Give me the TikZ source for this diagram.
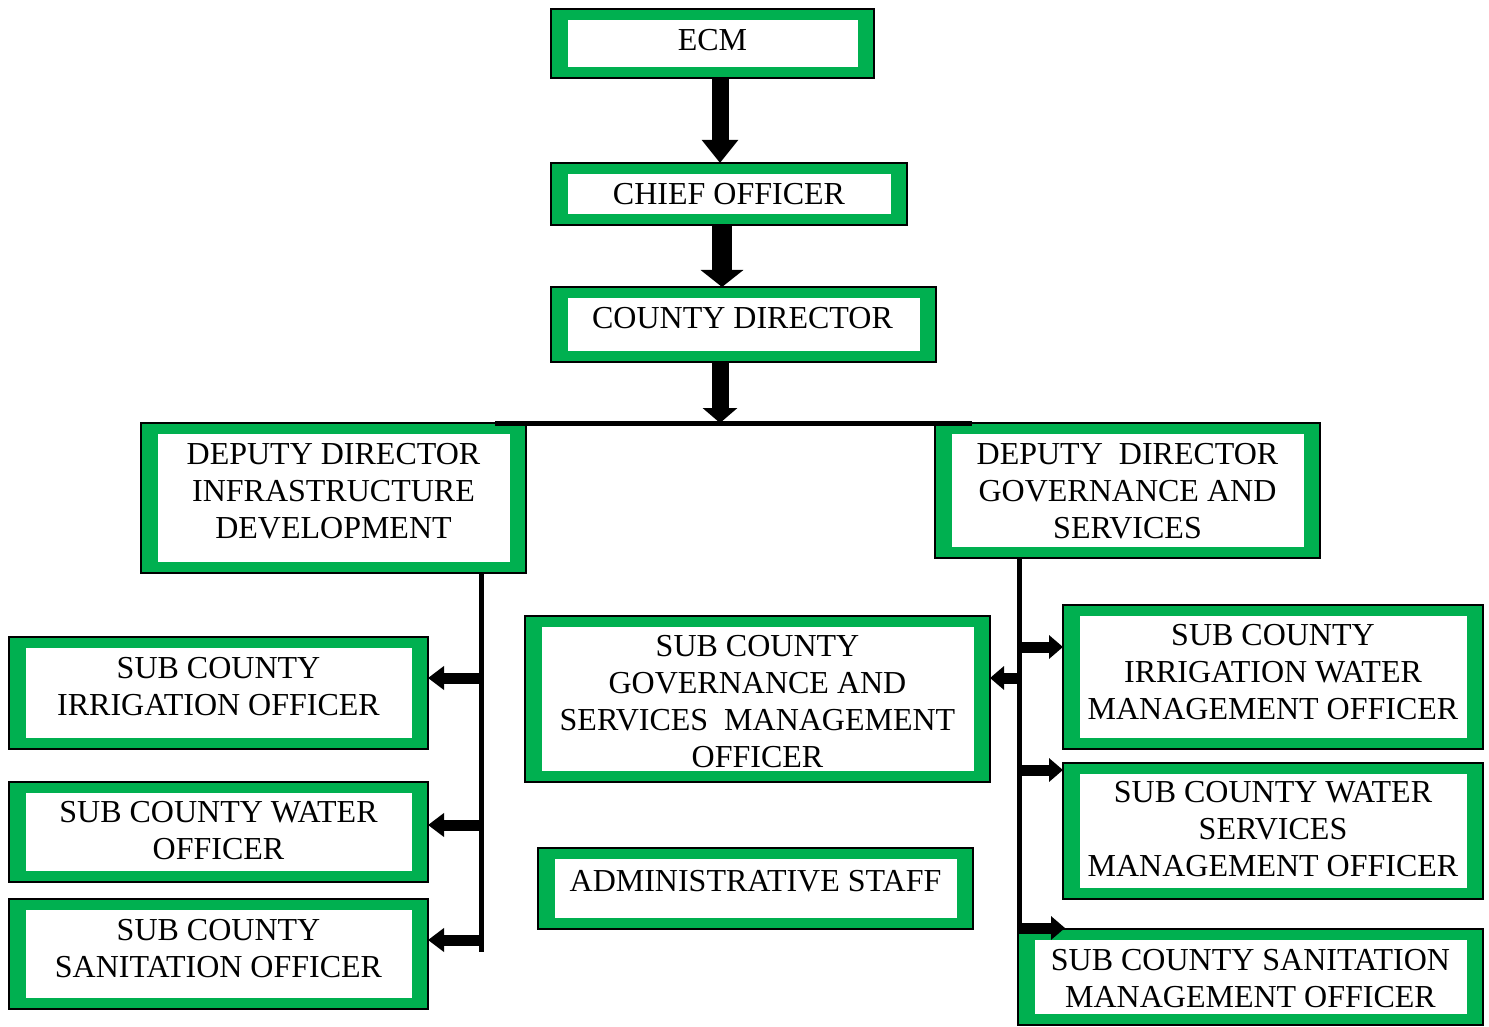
\documentclass[tikz,border=0pt]{standalone}
\usepackage{fontspec}
\setmainfont{Liberation Serif}
\usetikzlibrary{arrows.meta,calc}
\definecolor{boxgreen}{RGB}{0,176,80}
\newcommand\orglines[1]{\begin{tabular}[t]{@{}c@{}}#1\end{tabular}}
\begin{document}
\begin{tikzpicture}[x=1pt,y=-1pt,
  obox/.style={draw=black, line width=1.3pt, fill=boxgreen, inner sep=0pt, outer sep=0pt,
    path picture={\fill[white] ([xshift=16.5pt,yshift=11pt]path picture bounding box.south west) rectangle ([xshift=-16.5pt,yshift=-11pt]path picture bounding box.north east);}},
  otext/.style={inner sep=0pt, anchor=base, font=\fontsize{32}{37}\selectfont},
  vline/.style={line width=5pt},
  sidearrow/.style={line width=11pt, -{Triangle[width=23pt,length=14pt]}},
  leftarrow/.style={line width=11pt, -{Triangle[width=23pt,length=16pt]}}
]
\useasboundingbox (0,0) rectangle (1489,1027);
\fill[white] (0,0) rectangle (1489,1027);

% boxes
\node[obox, minimum width=323pt, minimum height=69pt] (ecm) at (712.5,43.5) {};
\node[obox, minimum width=356pt, minimum height=62pt] (chief) at (729,194) {};
\node[obox, minimum width=385pt, minimum height=75pt] (dir) at (743.5,324.5) {};
\node[obox, minimum width=385pt, minimum height=150pt] (infra) at (333.5,498) {};
\node[obox, minimum width=385pt, minimum height=135pt] (gov) at (1127.5,490.5) {};
\node[obox, minimum width=419pt, minimum height=112pt] (irr) at (218.5,693) {};
\node[obox, minimum width=419pt, minimum height=100pt] (water) at (218.5,832) {};
\node[obox, minimum width=419pt, minimum height=110pt] (san) at (218.5,954) {};
\node[obox, minimum width=465pt, minimum height=166pt] (scgov) at (757.5,699) {};
\node[obox, minimum width=435pt, minimum height=81pt] (admin) at (755.5,888.5) {};
\node[obox, minimum width=420pt, minimum height=144pt] (irrw) at (1273,677) {};
\node[obox, minimum width=420pt, minimum height=136pt] (waters) at (1273,831) {};
\node[obox, minimum width=465pt, minimum height=96pt] (sanm) at (1250.5,977) {};

% texts
\node[otext] (ecm-t) at (712.5,50.5) {\orglines{ECM}};
\node[otext] (chief-t) at (729,205) {\orglines{CHIEF OFFICER}};
\node[otext] (dir-t) at (742.5,328) {\orglines{COUNTY DIRECTOR}};
\node[otext] (infra-t) at (333.5,464) {\orglines{DEPUTY DIRECTOR\\INFRASTRUCTURE\\DEVELOPMENT}};
\node[otext] (gov-t) at (1127.5,464) {\orglines{DEPUTY~~DIRECTOR\\GOVERNANCE AND\\SERVICES}};
\node[otext] (irr-t) at (218.5,678) {\orglines{SUB COUNTY\\IRRIGATION OFFICER}};
\node[otext] (water-t) at (218.5,822) {\orglines{SUB COUNTY WATER\\OFFICER}};
\node[otext] (san-t) at (218.5,940) {\orglines{SUB COUNTY\\SANITATION OFFICER}};
\node[otext] (scgov-t) at (757.5,656) {\orglines{SUB COUNTY\\GOVERNANCE AND\\SERVICES~~MANAGEMENT\\OFFICER}};
\node[otext] (admin-t) at (755.5,891) {\orglines{ADMINISTRATIVE STAFF}};
\node[otext] (irrw-t) at (1273,645) {\orglines{SUB COUNTY\\IRRIGATION WATER\\MANAGEMENT OFFICER}};
\node[otext] (waters-t) at (1273,802) {\orglines{SUB COUNTY WATER\\SERVICES\\MANAGEMENT OFFICER}};
\node[otext] (sanm-t) at (1250.5,970) {\orglines{SUB COUNTY SANITATION\\MANAGEMENT OFFICER}};

% top chain
\draw[line width=17pt, -{Triangle[width=35pt,length=23pt]}] ([xshift=7.5pt]ecm.south) -- ([xshift=7.5pt]ecm.south |- chief.north);
\draw[line width=20pt, -{Triangle[width=42pt,length=17pt]}] ([xshift=-7pt]chief.south) -- ([xshift=-7pt]chief.south |- dir.north);
\coordinate (barL) at (495,423);
\coordinate (barR) at (972,423);
\draw[line width=17pt, -{Triangle[width=34pt,length=15pt]}] ([xshift=-23.5pt]dir.south) -- ([xshift=-23.5pt]dir.south |- barL);
\draw[line width=5pt] (barL) -- (barR);

% left branch
\coordinate (lbot) at (481.5,952);
\draw[vline] (infra.south -| lbot) -- (lbot);
\coordinate (irrT) at ($(irr.east)+(0,-15)$);
\coordinate (waterT) at ($(water.east)+(0,-7)$);
\coordinate (sanT) at ($(san.east)+(0,-14)$);
\draw[leftarrow] (irrT -| lbot) -- (irrT);
\draw[leftarrow] (waterT -| lbot) -- (waterT);
\draw[leftarrow] (sanT -| lbot) -- (sanT);

% right branch
\coordinate (rbot) at (1019.5,932);
\draw[vline] (gov.south -| rbot) -- (rbot);
\coordinate (irrwT) at ($(irrw.west)+(0,-30)$);
\coordinate (watersT) at ($(waters.west)+(0,-61)$);
\coordinate (sanmT) at ($(sanm.north west)+(47,-1)$);
\coordinate (scgovT) at ($(scgov.east)+(0,-21)$);
\draw[sidearrow] (irrwT -| rbot) -- (irrwT);
\draw[sidearrow] (watersT -| rbot) -- (watersT);
\draw[sidearrow] ([xshift=-2.5pt]sanmT -| rbot) -- (sanmT);
\draw[sidearrow] (scgovT -| rbot) -- (scgovT);
\end{tikzpicture}
\end{document}
